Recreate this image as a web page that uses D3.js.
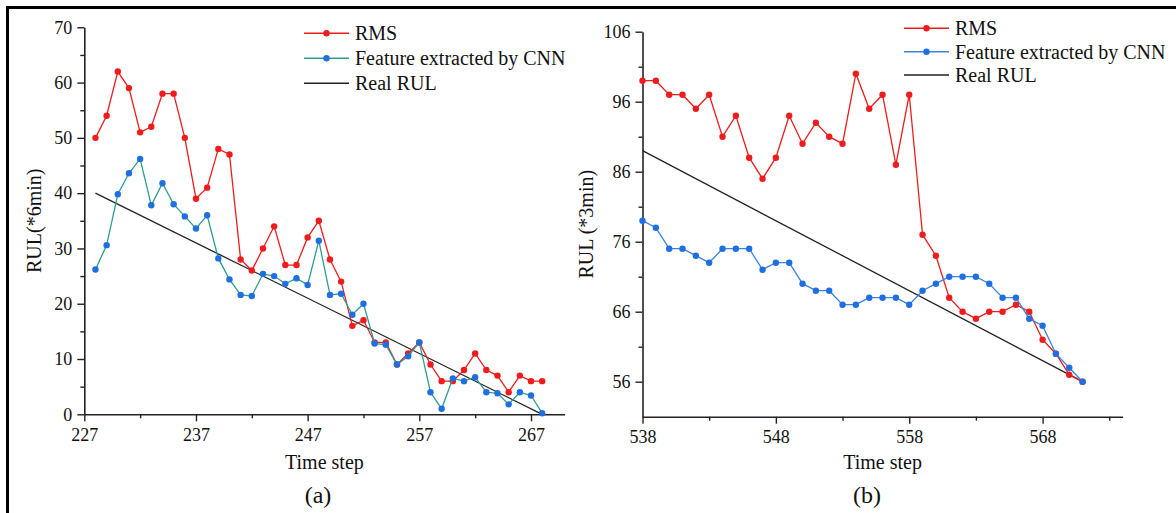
<!DOCTYPE html>
<html>
<head>
<meta charset="utf-8">
<script src="https://cdn.jsdelivr.net/npm/d3@7"></script>
<style>
  body { margin: 0; background: #fff; }
  svg { display: block; }
  text { font-family: "Liberation Serif", "Times New Roman", serif; fill: #111; }
</style>
</head>
<body>
<svg id="chart" width="1176" height="513"></svg>
<script>
// panel (a)
var stepsA = d3.range(228, 269);
var rmsA = [50, 54, 62, 59, 51, 52, 58, 58, 50, 39, 41, 48, 47, 28, 26, 30, 34, 27, 27, 32, 35,
            28, 24, 16, 17, 13, 13, 9, 11, 13, 9, 6, 6, 8, 11, 8, 7, 4, 7, 6, 6];
var cnnA = [26.2, 30.6, 39.8, 43.6, 46.2, 37.8, 41.8, 38, 35.8, 33.6, 36, 28.2, 24.4, 21.6, 21.4,
            25.4, 25, 23.6, 24.6, 23.4, 31.4, 21.6, 21.8, 18, 20, 12.8, 12.6, 9, 10.5, 13, 4, 1,
            6.5, 6, 6.7, 4, 3.8, 1.8, 4, 3.4, 0.2];
var realA = [[228, 40], [268, 0]];
var xTicksA = [227, 237, 247, 257, 267];
var xMinorA = [232, 242, 252, 262];
var yTicksA = [0, 10, 20, 30, 40, 50, 60, 70];
var yMinorA = [5, 15, 25, 35, 45, 55, 65];

// panel (b)
var stepsB = d3.range(538, 572);
var rmsB = [99, 99, 97, 97, 95, 97, 91, 94, 88, 85, 88, 94, 90, 93, 91, 90, 100, 95, 97, 87, 97,
            77, 74, 68, 66, 65, 66, 66, 67, 66, 62, 60, 57, 56];
var cnnB = [79, 78, 75, 75, 74, 73, 75, 75, 75, 72, 73, 73, 70, 69, 69, 67, 67, 68, 68, 68, 67,
            69, 70, 71, 71, 71, 70, 68, 68, 65, 64, 60, 58, 56];
var realB = [[538, 89], [571, 56]];
var xTicksB = [538, 548, 558, 568];
var xMinorB = [543, 553, 563, 573];
var yTicksB = [56, 66, 76, 86, 96, 106];
var yMinorB = [61, 71, 81, 91, 101];

var legendNames = ["RMS", "Feature extracted by CNN", "Real RUL"];

const red = "#ee1c1c";
const dotBlue = "#1f6fe0";

var svg = d3.select("#chart");

// outer frame (top and left edges only show in the picture)
svg.append("path")
    .attr("d", "M7.5,513 V7.5 H1176")
    .attr("fill", "none")
    .attr("stroke", "#000")
    .attr("stroke-width", 3);

drawPanel({
    left: 84.3, right: 564.5, top: 27.3, bottom: 414.3,
    xDomain: [227, 270], yDomain: [0, 70],
    xTicks: xTicksA, xMinor: xMinorA, yTicks: yTicksA, yMinor: yMinorA,
    steps: stepsA, rms: rmsA, cnn: cnnA, real: realA,
    cnnLine: "#2e9c92",
    yLabel: "RUL(*6min)", yLabelX: 34, tag: "(a)", tagX: 318,
    legendX: 304, legendY: [33.3, 58.3, 83.3]
});

drawPanel({
    left: 642.5, right: 1122.6, top: 31.7, bottom: 416.7,
    xDomain: [538, 574], yDomain: [51, 106],
    xTicks: xTicksB, xMinor: xMinorB, yTicks: yTicksB, yMinor: yMinorB,
    steps: stepsB, rms: rmsB, cnn: cnnB, real: realB,
    cnnLine: "#3b82e4",
    yLabel: "RUL (*3min)", yLabelX: 586, tag: "(b)", tagX: 867,
    legendX: 904, legendY: [28.3, 51.7, 75]
});

function drawPanel(p) {
    var x = d3.scaleLinear().domain(p.xDomain).range([p.left, p.right]);
    var y = d3.scaleLinear().domain(p.yDomain).range([p.bottom, p.top]);

    var g = svg.append("g");

    // axes
    g.append("g")
        .attr("transform", "translate(0," + p.bottom + ")")
        .call(d3.axisBottom(x).tickValues(p.xTicks).tickSize(7).tickPadding(7).tickSizeOuter(0));
    g.append("g")
        .attr("transform", "translate(0," + p.bottom + ")")
        .call(d3.axisBottom(x).tickValues(p.xMinor).tickSize(4).tickFormat("").tickSizeOuter(0))
        .select(".domain").remove();

    g.append("g")
        .attr("transform", "translate(" + p.left + ",0)")
        .call(d3.axisLeft(y).tickValues(p.yTicks).tickSize(7).tickPadding(5).tickSizeOuter(0));
    g.append("g")
        .attr("transform", "translate(" + p.left + ",0)")
        .call(d3.axisLeft(y).tickValues(p.yMinor).tickSize(4).tickFormat("").tickSizeOuter(0))
        .select(".domain").remove();

    g.selectAll(".domain").attr("stroke", "#222").attr("stroke-width", 1.6);
    g.selectAll(".tick line").attr("stroke", "#222").attr("stroke-width", 1.4);
    g.selectAll(".tick text")
        .attr("font-family", "Liberation Serif, Times New Roman, serif")
        .style("font-size", "18px")
        .attr("fill", "#111");

    // real RUL line
    var line = d3.line().x(function(d) { return x(d[0]); }).y(function(d) { return y(d[1]); });
    g.append("path")
        .attr("d", line(p.real))
        .attr("fill", "none")
        .attr("stroke", "#222")
        .attr("stroke-width", 1.3);

    var rmsPts = p.steps.map(function(s, i) { return [s, p.rms[i]]; });
    var cnnPts = p.steps.map(function(s, i) { return [s, p.cnn[i]]; });

    // RMS series
    g.append("path")
        .attr("d", line(rmsPts))
        .attr("fill", "none")
        .attr("stroke", red)
        .attr("stroke-width", 1.3);
    g.selectAll(".rmsdot")
        .data(rmsPts)
        .enter().append("circle")
        .attr("class", "rmsdot")
        .attr("cx", function(d) { return x(d[0]); })
        .attr("cy", function(d) { return y(d[1]); })
        .attr("r", 3.2)
        .attr("fill", red);

    // CNN series
    g.append("path")
        .attr("d", line(cnnPts))
        .attr("fill", "none")
        .attr("stroke", p.cnnLine)
        .attr("stroke-width", 1.3);
    g.selectAll(".cnndot")
        .data(cnnPts)
        .enter().append("circle")
        .attr("class", "cnndot")
        .attr("cx", function(d) { return x(d[0]); })
        .attr("cy", function(d) { return y(d[1]); })
        .attr("r", 3.2)
        .attr("fill", dotBlue);

    // axis titles
    g.append("text")
        .attr("x", (p.left + p.right) / 2)
        .attr("y", 462)
        .attr("dy", "0.35em")
        .style("font-size", "20px")
        .style("text-anchor", "middle")
        .text("Time step");

    g.append("text")
        .attr("transform", "translate(" + p.yLabelX + "," + (p.top + p.bottom) / 2 + ") rotate(-90)")
        .attr("dy", "0.35em")
        .style("font-size", "20px")
        .style("text-anchor", "middle")
        .text(p.yLabel);

    g.append("text")
        .attr("x", p.tagX)
        .attr("y", 495)
        .attr("dy", "0.35em")
        .style("font-size", "24px")
        .style("text-anchor", "middle")
        .text(p.tag);

    // legend
    var colors = [red, p.cnnLine, "#222"];
    legendNames.forEach(function(name, i) {
        var ly = p.legendY[i];
        g.append("line")
            .attr("x1", p.legendX).attr("x2", p.legendX + 45)
            .attr("y1", ly).attr("y2", ly)
            .attr("stroke", colors[i])
            .attr("stroke-width", 1.4);
        if (i < 2) {
            g.append("circle")
                .attr("cx", p.legendX + 22.5)
                .attr("cy", ly)
                .attr("r", 3.2)
                .attr("fill", i == 0 ? red : dotBlue);
        }
        g.append("text")
            .attr("x", p.legendX + 51)
            .attr("y", ly)
            .attr("dy", "0.35em")
            .style("font-size", "20px")
            .text(name);
    });
}
</script>
</body>
</html>
